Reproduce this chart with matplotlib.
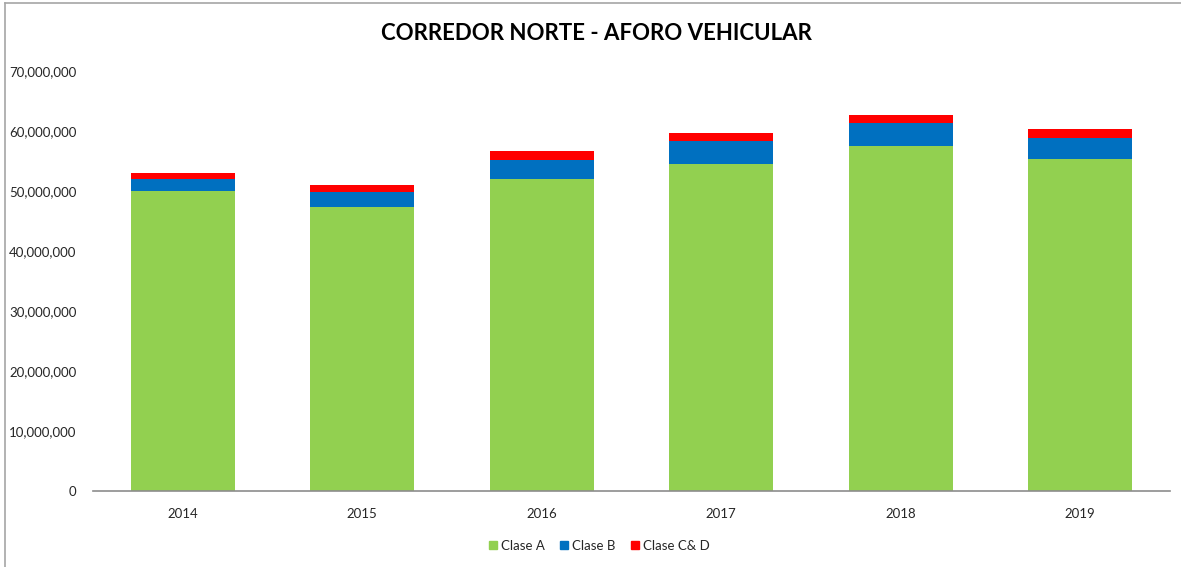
import matplotlib.pyplot as plt
import numpy as np
from matplotlib.lines import Line2D
from matplotlib.ticker import FuncFormatter


YEARS = ["2014", "2015", "2016", "2017", "2018", "2019"]

CLASE_A = [50.05e6, 47.40e6, 52.05e6, 54.50e6, 57.55e6, 55.28e6]
CLASE_B = [2.00e6, 2.45e6, 3.17e6, 3.78e6, 3.78e6, 3.55e6]
CLASE_CD = [0.90e6, 1.07e6, 1.50e6, 1.39e6, 1.39e6, 1.55e6]

SERIES_NAMES = ["Clase A", "Clase B", "Clase C& D"]
COLORS = ["#92d050", "#0070c0", "#ff0000"]

plt.rcParams["font.family"] = ["Lato", "DejaVu Sans"]


def main() -> None:
    figure = plt.figure(figsize=(11.81, 5.67), dpi=100)
    axes = figure.add_axes([93 / 1181, 1 - 491 / 567, 1077 / 1181, 420 / 567])

    positions = np.arange(len(YEARS))
    width = 0.58

    bottom = np.zeros(len(YEARS))
    for values, color in zip([CLASE_A, CLASE_B, CLASE_CD], COLORS):
        axes.bar(positions, values, width, bottom=bottom, color=color, zorder=2)
        bottom = bottom + np.array(values)

    axes.set_xlim(-0.5, len(YEARS) - 0.5)
    axes.set_ylim(0, 70e6)
    axes.set_yticks(np.arange(0, 70e6 + 1, 10e6))
    axes.yaxis.set_major_formatter(FuncFormatter(lambda v, _: f"{v:,.0f}"))
    axes.set_xticks(positions)
    axes.set_xticklabels(YEARS)

    for side in ["top", "right", "left"]:
        axes.spines[side].set_visible(False)
    axes.spines["bottom"].set_color("#8c8c8c")
    axes.spines["bottom"].set_linewidth(1.2)
    axes.tick_params(axis="both", length=0, labelsize=9.5, colors="#262626")
    axes.tick_params(axis="y", pad=12)
    axes.tick_params(axis="x", pad=12)

    figure.text(
        596 / 1181, 1 - 34 / 567,
        "CORREDOR NORTE - AFORO VEHICULAR",
        ha="center", va="center", fontsize=16, fontweight="bold",
        color="black",
    )

    handles = [
        Line2D([], [], marker="s", linestyle="", markersize=6,
               markerfacecolor=c, markeredgecolor=c)
        for c in COLORS
    ]
    figure.legend(
        handles, SERIES_NAMES, loc="center", ncol=3, frameon=False,
        bbox_to_anchor=(598 / 1181, 1 - 546 / 567), fontsize=9.5,
        handletextpad=0.1, columnspacing=1.0, handlelength=1.0,
        labelcolor="#262626",
    )

    figure.add_artist(Line2D([5 / 1181, 5 / 1181], [0, 1 - 3 / 567],
                             color="#a6a6a6", linewidth=1.2))
    figure.add_artist(Line2D([5 / 1181, 1], [1 - 3 / 567, 1 - 3 / 567],
                             color="#a6a6a6", linewidth=1.2))

    figure.savefig("out.png", dpi=100)
    plt.close(figure)


if __name__ == "__main__":
    main()
